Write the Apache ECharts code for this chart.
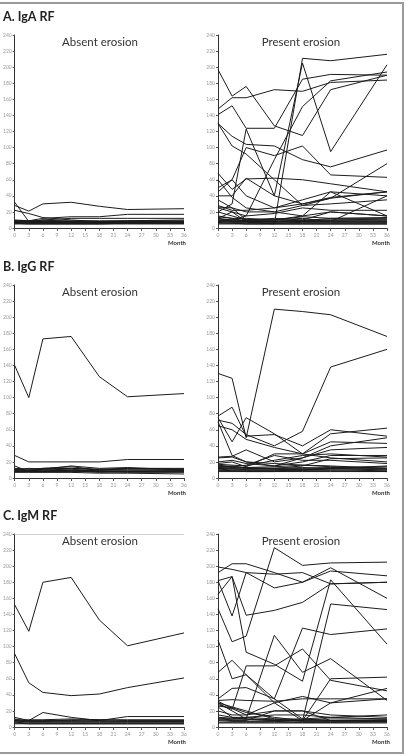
<!DOCTYPE html>
<html>
<head>
<meta charset="utf-8">
<script src="https://cdn.jsdelivr.net/npm/echarts@6/dist/echarts.min.js"></script>
<style>
  html, body { margin: 0; padding: 0; background: #fff; }
  #chart { width: 414px; height: 756px; }
</style>
</head>
<body>
<div id="chart"></div>
<script>
// follow-up months (x positions of the measurements)
const months = [0, 3, 6, 12, 18, 24, 36];

const panelTitles = ['A. IgA RF', 'B. IgG RF', 'C. IgM RF'];
const groupNames = ['Absent erosion', 'Present erosion'];
const axisName = 'Month';

// one row per patient, values at each month
const igaAbsent = [
  [28, 21, 30, 32, 27, 23, 24],
  [32, 8, 10, 8, 7, 7, 7],
  [22, 18, 13, 10, 8, 9, 10],
  [10, 9, 12, 14, 14, 17, 17],
  [8, 8, 10, 12, 12, 12, 12],
  [9, 8, 8, 8, 8, 8, 8],
  [8, 7, 7, 7, 7, 7, 7],
  [7, 6, 6, 6, 6, 6, 6],
  [6, 6, 6, 6, 6, 6, 6],
  [5, 5, 5, 5, 5, 5, 5],
  [7, 7, 7, 6, 6, 7, 7],
  [6, 5, 5, 5, 5, 6, 6],
  [9, 9, 9, 9, 9, 9, 9],
  [8, 8, 8, 7, 7, 8, 8]
];

const igaPresent = [
  [197, 164, 176, 127, 115, 172, 190],
  [148, 162, 162, 172, 170, 181, 184],
  [141, 152, 124, 124, 185, 191, 190],
  [130, 114, 104, 102, 85, 76, 97],
  [130, 102, 92, 60, 28, 37, 45],
  [12, 20, 8, 5, 211, 208, 216],
  [20, 30, 123, 40, 205, 95, 203],
  [8, 10, 15, 85, 151, 183, 194],
  [45, 60, 100, 90, 102, 66, 63],
  [68, 48, 61, 62, 60, 55, 45],
  [60, 38, 25, 20, 15, 20, 15],
  [50, 60, 40, 25, 35, 45, 40],
  [40, 40, 62, 40, 30, 38, 45],
  [35, 25, 20, 20, 28, 30, 35],
  [28, 22, 22, 25, 30, 37, 80],
  [26, 25, 10, 10, 15, 45, 15],
  [25, 20, 15, 18, 25, 22, 22],
  [20, 15, 10, 10, 12, 8, 40],
  [15, 12, 8, 8, 10, 20, 15],
  [14, 12, 12, 10, 14, 12, 12],
  [12, 10, 10, 12, 10, 10, 10],
  [10, 8, 8, 8, 8, 9, 9],
  [9, 9, 8, 7, 8, 8, 8],
  [8, 7, 7, 6, 7, 7, 7],
  [7, 6, 6, 6, 6, 6, 6],
  [6, 6, 5, 5, 5, 5, 5],
  [5, 5, 5, 5, 5, 5, 5],
  [11, 10, 9, 9, 9, 10, 11],
  [9, 8, 10, 8, 9, 12, 13]
];

const iggAbsent = [
  [140, 100, 173, 176, 126, 101, 105],
  [28, 20, 20, 20, 20, 23, 23],
  [15, 8, 12, 14, 10, 12, 11],
  [12, 11, 12, 12, 11, 12, 12],
  [10, 10, 11, 12, 10, 10, 10],
  [9, 9, 9, 10, 9, 9, 9],
  [8, 8, 8, 8, 8, 8, 8],
  [11, 9, 10, 11, 8, 7, 7],
  [7, 7, 7, 7, 6, 6, 5],
  [9, 8, 8, 9, 7, 8, 9],
  [10, 12, 11, 15, 12, 13, 10],
  [8, 10, 10, 9, 10, 11, 11]
];

const iggPresent = [
  [130, 124, 50, 210, 207, 203, 176],
  [72, 68, 54, 40, 58, 138, 160],
  [77, 88, 52, 54, 40, 60, 52],
  [75, 45, 75, 55, 30, 55, 62],
  [65, 60, 48, 38, 30, 45, 43],
  [70, 28, 20, 15, 25, 40, 50],
  [26, 27, 35, 20, 25, 35, 38],
  [20, 22, 18, 15, 20, 28, 28],
  [18, 20, 14, 30, 30, 25, 20],
  [17, 16, 15, 22, 28, 30, 26],
  [15, 14, 16, 28, 22, 22, 18],
  [14, 15, 12, 12, 15, 24, 25],
  [13, 12, 13, 14, 16, 15, 12],
  [12, 11, 11, 12, 12, 13, 14],
  [11, 10, 10, 10, 11, 12, 10],
  [10, 9, 9, 9, 10, 10, 9],
  [9, 9, 8, 8, 9, 9, 8],
  [8, 8, 8, 8, 8, 8, 8],
  [13, 12, 10, 10, 10, 11, 11],
  [16, 14, 13, 12, 13, 12, 12],
  [12, 13, 12, 11, 10, 12, 15],
  [25, 26, 20, 18, 16, 14, 12]
];

const igmAbsent = [
  [152, 119, 180, 186, 133, 101, 117],
  [91, 55, 43, 39, 41, 49, 61],
  [12, 8, 18, 12, 8, 13, 13],
  [10, 7, 7, 9, 8, 7, 7],
  [8, 6, 6, 6, 6, 6, 6],
  [7, 7, 7, 7, 7, 7, 7],
  [6, 5, 5, 5, 5, 5, 5],
  [5, 4, 4, 4, 4, 4, 4],
  [9, 8, 8, 8, 9, 8, 8],
  [4, 4, 4, 4, 4, 4, 4],
  [8, 9, 9, 10, 9, 9, 9]
];

const igmPresent = [
  [199, 196, 192, 190, 192, 178, 180],
  [192, 203, 203, 192, 180, 194, 188],
  [182, 187, 93, 78, 57, 183, 103],
  [182, 138, 192, 173, 180, 198, 160],
  [165, 187, 139, 145, 155, 178, 180],
  [147, 106, 113, 223, 201, 204, 205],
  [108, 60, 65, 30, 8, 153, 146],
  [68, 83, 65, 35, 10, 8, 8],
  [35, 48, 49, 35, 123, 115, 122],
  [30, 20, 10, 114, 68, 85, 33],
  [28, 22, 76, 76, 97, 58, 45],
  [32, 23, 15, 30, 38, 30, 48],
  [25, 12, 10, 8, 8, 30, 35],
  [33, 34, 33, 32, 35, 35, 35],
  [20, 15, 15, 20, 20, 15, 12],
  [26, 24, 18, 12, 8, 60, 62],
  [15, 12, 12, 10, 10, 12, 15],
  [12, 11, 10, 9, 9, 10, 10],
  [10, 9, 9, 8, 8, 8, 8],
  [8, 7, 7, 7, 6, 6, 7],
  [6, 6, 6, 6, 6, 6, 6],
  [5, 5, 5, 5, 5, 5, 5],
  [11, 10, 12, 15, 15, 12, 10],
  [30, 25, 20, 10, 7, 7, 7],
  [9, 8, 8, 20, 20, 8, 9]
];

const panels = [igaAbsent, igaPresent, iggAbsent, iggPresent, igmAbsent, igmPresent];

// grid layout, px
const rowTops = [35, 285, 534];
const rowHeight = 193;
const colLefts = [14, 218];
const colWidth = 170;

const chart = echarts.init(document.getElementById('chart'));

const grids = [], xAxes = [], yAxes = [], series = [];
const graphics = [
  // outer frame
  {
    type: 'rect',
    shape: { x: -5, y: 3, width: 408, height: 750 },
    style: { fill: 'none', stroke: '#9a9a9a', lineWidth: 2 },
    silent: true
  }
];

panels.forEach((lines, i) => {
  const row = Math.floor(i / 2), col = i % 2;
  const left = colLefts[col], top = rowTops[row];
  grids.push({ left: left, top: top, width: colWidth - col, height: rowHeight });

  xAxes.push({
    type: 'value', gridIndex: i, min: 0, max: 36, interval: 3,
    axisLine: { lineStyle: { color: '#333', width: 1 } },
    axisTick: { length: 3, lineStyle: { color: '#555' } },
    axisLabel: { fontSize: 5, color: '#999', margin: 5, fontFamily: 'Lato' },
    splitLine: { show: false }
  });
  yAxes.push({
    type: 'value', gridIndex: i, min: 0, max: 240, interval: 20,
    axisLine: { show: true, lineStyle: { color: '#333', width: 1 } },
    axisTick: { show: true, length: 2, lineStyle: { color: '#555' } },
    axisLabel: { fontSize: 5, color: '#999', margin: 3, fontFamily: 'Lato' },
    splitLine: { show: false }
  });

  lines.forEach((vals, k) => {
    const s = {
      type: 'line', xAxisIndex: i, yAxisIndex: i,
      data: months.map((m, j) => [m, vals[j]]),
      symbol: 'none', silent: true,
      lineStyle: { color: '#1c1c1c', width: 1 }
    };
    // faint top rule seen on the IgM absent panel
    if (i === 4 && k === 0) {
      s.markLine = {
        symbol: 'none', silent: true, label: { show: false },
        lineStyle: { color: '#cfcfcf', type: 'solid', width: 1 },
        data: [{ yAxis: 240 }]
      };
    }
    series.push(s);
  });

  // group name and axis name
  graphics.push({
    type: 'text', x: left + 86 - col * 1 + (col ? -2 : 0), y: top + 7,
    style: { text: groupNames[col], font: '11.5px Lato', fill: '#333', align: 'center', verticalAlign: 'middle' },
    silent: true
  });
  graphics.push({
    type: 'text', x: left + colWidth + 2, y: top + rowHeight + 15,
    style: { text: axisName, font: 'bold 6px Lato', fill: '#333', align: 'right', verticalAlign: 'middle' },
    silent: true
  });
});

panelTitles.forEach((t, r) => {
  graphics.push({
    type: 'text', x: 3, y: rowTops[r] - 18,
    style: { text: t, font: 'bold 12.5px Lato', fill: '#222', align: 'left', verticalAlign: 'middle' },
    silent: true
  });
});

chart.setOption({
  animation: false,
  backgroundColor: '#fff',
  grid: grids,
  xAxis: xAxes,
  yAxis: yAxes,
  series: series,
  graphic: graphics
});

window.addEventListener('resize', () => chart.resize());
</script>
</body>
</html>
